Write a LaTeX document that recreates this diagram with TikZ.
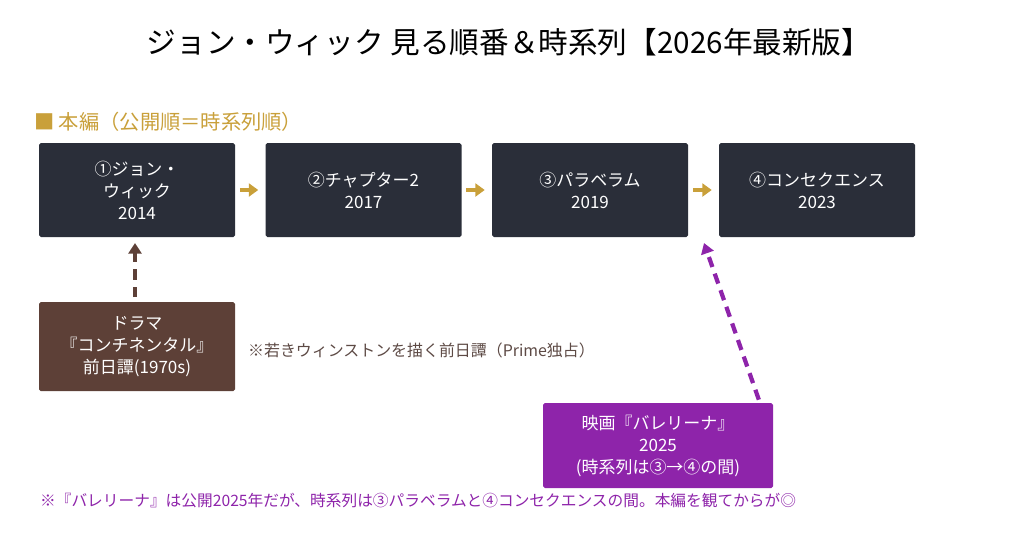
\documentclass[tikz,border=0pt]{standalone}
\usepackage{fontspec}
\setmainfont{Noto Sans CJK JP}
\usepackage{xcolor}
\usepackage{tikz}
\usetikzlibrary{arrows.meta,positioning}

\definecolor{filmbg}{HTML}{2A2E39}
\definecolor{dramabg}{HTML}{5D4037}
\definecolor{spinbg}{HTML}{8E24AA}
\definecolor{gold}{HTML}{C9A03A}
\definecolor{notegray}{HTML}{5D4A45}

\begin{document}
\begin{tikzpicture}[
x=0.03cm, y=-0.03cm,
font=\fontsize{14.5pt}{18.8pt}\selectfont,
box/.style={rounded corners=1.5pt, align=center, text=white, minimum width=196*0.03cm, minimum height=94*0.03cm},
film/.style={box, fill=filmbg},
drama/.style={box, fill=dramabg, minimum height=89*0.03cm},
spin/.style={box, fill=spinbg, minimum width=230*0.03cm, minimum height=85*0.03cm},
arr/.style={-{Triangle[length=8pt,width=11pt]}, line width=4pt, gold, shorten <=4pt, shorten >=6pt},
link/.style={-{Triangle[length=9pt,width=11pt]}, line width=3.6pt, dash pattern=on 9pt off 6pt}
]
\useasboundingbox (0,0) rectangle (1024,549);

% Title
\node (title) at (509,42) {\fontsize{25.3pt}{30pt}\selectfont ジョン・ウィック 見る順番＆時系列【2026年最新版】};
\node[anchor=west, text=gold, font=\fontsize{17.3pt}{20pt}\selectfont] (head) at (30,122) {■ 本編（公開順＝時系列順）};

% Main films
\node[film] (f1) at (137,190) {①ジョン・\\ウィック\\2014};
\node[film] (f2) at (363.5,190) {②チャプター2\\2017};
\node[film] (f3) at (590,190) {③パラベラム\\2019};
\node[film] (f4) at (817,190) {④コンセクエンス\\2023};

\draw[arr] (f1) -- (f2);
\draw[arr] (f2) -- (f3);
\draw[arr] (f3) -- (f4);

% Drama
\node[drama] (drama) at (137,346.5) {ドラマ\\『コンチネンタル』\\前日譚(1970s)};
\node[anchor=west, text=notegray, font=\fontsize{13.6pt}{16pt}\selectfont] (dnote) at (244,350) {※若きウィンストンを描く前日譚（Prime独占）};
\coordinate (dtip) at (135,243);
\draw[link, dramabg, shorten <=4pt] (drama.north -| dtip) -- (dtip);

% Ballerina
\node[spin] (ballet) at (658,445.5) {映画『バレリーナ』\\2025\\(時系列は③→④の間)};
\coordinate (btail) at (760,403);
\coordinate (btip) at (704,243);
\draw[link, spinbg, shorten <=3pt] (btail) -- (btip);

% Footnote
\node[anchor=west, text=spinbg, font=\fontsize{13.4pt}{16pt}\selectfont] (fnote) at (36,501) {※『バレリーナ』は公開2025年だが、時系列は③パラベラムと④コンセクエンスの間。本編を観てからが◎};

\end{tikzpicture}
\end{document}
